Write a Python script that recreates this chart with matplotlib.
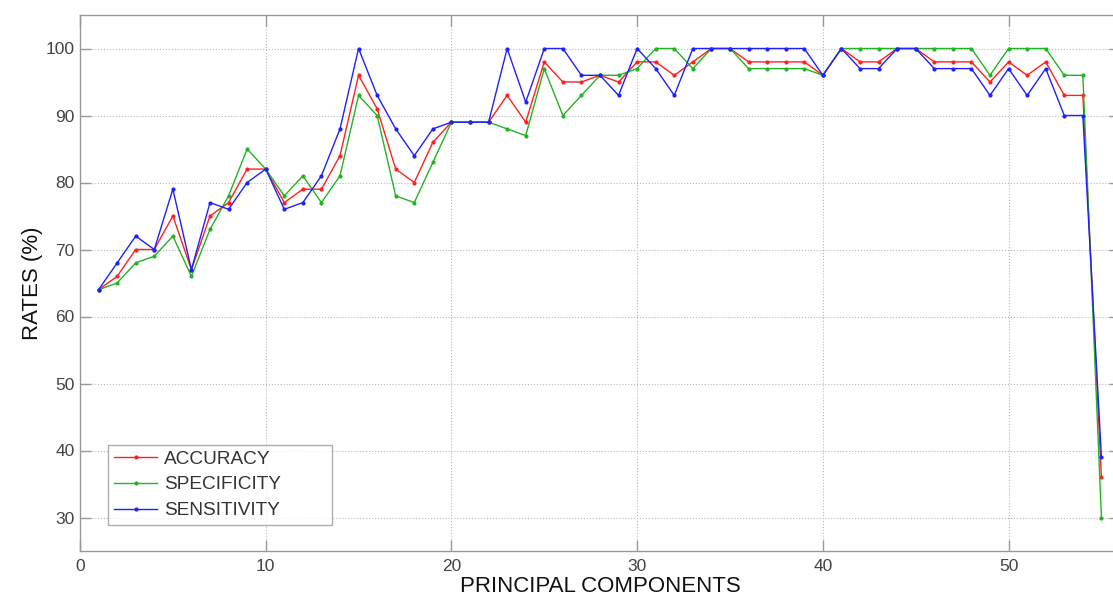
import matplotlib.pyplot as plt

plt.rcParams['font.family'] = ['Liberation Sans', 'DejaVu Sans']

# number of principal components kept
components = list(range(1, 56))

accuracy = [64, 66, 70, 70, 75, 67, 75, 77, 82, 82,
            77, 79, 79, 84, 96, 91, 82, 80, 86, 89,
            89, 89, 93, 89, 98, 95, 95, 96, 95, 98,
            98, 96, 98, 100, 100, 98, 98, 98, 98, 96,
            100, 98, 98, 100, 100, 98, 98, 98, 95, 98,
            96, 98, 93, 93, 36]
specificity = [64, 65, 68, 69, 72, 66, 73, 78, 85, 82,
               78, 81, 77, 81, 93, 90, 78, 77, 83, 89,
               89, 89, 88, 87, 97, 90, 93, 96, 96, 97,
               100, 100, 97, 100, 100, 97, 97, 97, 97, 96,
               100, 100, 100, 100, 100, 100, 100, 100, 96, 100,
               100, 100, 96, 96, 30]
sensitivity = [64, 68, 72, 70, 79, 67, 77, 76, 80, 82,
               76, 77, 81, 88, 100, 93, 88, 84, 88, 89,
               89, 89, 100, 92, 100, 100, 96, 96, 93, 100,
               97, 93, 100, 100, 100, 100, 100, 100, 100, 96,
               100, 97, 97, 100, 100, 97, 97, 97, 93, 97,
               93, 97, 90, 90, 39]

series = [("ACCURACY", accuracy, "#ff2020"),
          ("SPECIFICITY", specificity, "#22b422"),
          ("SENSITIVITY", sensitivity, "#2020ff")]

fig = plt.figure(figsize=(11.13, 5.98), dpi=100)
# right edge of the axes sits just past the figure border
ax = fig.add_axes([80 / 1113, 47 / 598, 1040 / 1113, 536 / 598])

for name, vals, col in series:
    ax.plot(components, vals, color=col, lw=1.0, marker='.', ms=4, label=name)

ax.set_xlim(0, 56)
ax.set_ylim(25, 105)
ax.set_xticks(range(0, 60, 10))
ax.set_yticks(range(30, 101, 10))

ax.grid(True, ls=':', color='#b8b8b8', lw=0.8)
for s in ax.spines.values():
    s.set_color('#999999')
    s.set_linewidth(1.0)
ax.tick_params(direction='in', length=8, width=1.0, color='#999999',
               labelcolor='#444444', labelsize=12.5, top=True, right=True)
ax.tick_params(axis='x', pad=6)
ax.tick_params(axis='y', pad=4)

ax.set_xlabel("PRINCIPAL COMPONENTS", fontsize=16, color='#111111', labelpad=1)
ax.set_ylabel("RATES (%)", fontsize=16, color='#111111', labelpad=2)

# legend box stretched to a fixed width in the lower left corner
leg = ax.legend(loc='lower left',
                bbox_to_anchor=(28 / 1040, 26 / 536, 224 / 1040, 82 / 536),
                mode='expand', fontsize=13.7, frameon=True, fancybox=False,
                handlelength=2.3, handletextpad=0.35, borderpad=0.3,
                labelspacing=0.45, borderaxespad=0)
leg.get_frame().set_edgecolor('#999999')
leg.get_frame().set_linewidth(1.0)
for t in leg.get_texts():
    t.set_color('#333333')

fig.savefig("out.png", dpi=100, facecolor='white')
